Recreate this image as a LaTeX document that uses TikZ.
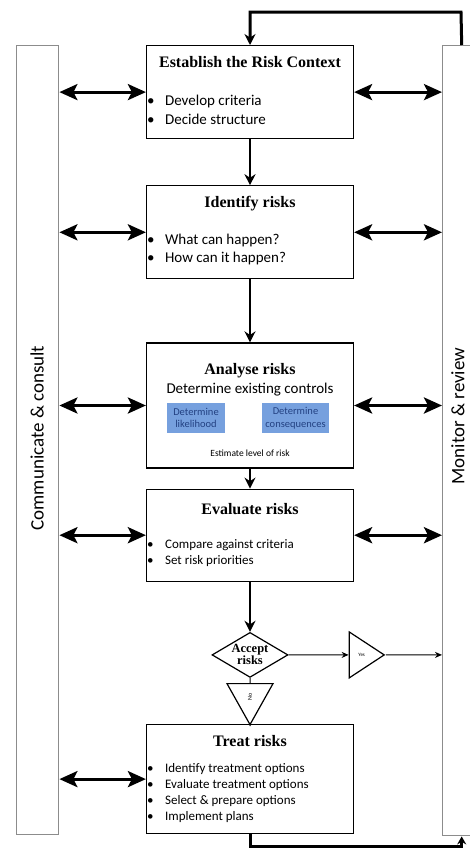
\documentclass[tikz,border=0pt]{standalone}
\usepackage{fontspec}
\setmainfont{Carlito}
\newfontfamily\headfont{Liberation Serif}
\usetikzlibrary{arrows.meta, positioning, shapes.geometric, calc}
\definecolor{panelgray}{RGB}{140,140,140}
\definecolor{subfill}{RGB}{118,160,222}
\definecolor{subtext}{RGB}{35,65,130}
\newcommand{\bitem}{\makebox[18pt][l]{\textbullet}}

\begin{document}
\begin{tikzpicture}[
  x=1pt, y=-1pt,
  >={Stealth[length=11pt, width=11pt]},
  stagebox/.style={draw, line width=1.2pt, minimum width=207pt, inner sep=0pt},
  panel/.style={draw=panelgray, line width=1.4pt, inner sep=0pt, anchor=north west},
  headtext/.style={font=\headfont\bfseries\fontsize{16}{18}\selectfont, inner sep=0pt},
  bigbullets/.style={anchor=west, align=left, inner sep=0pt, font=\fontsize{15}{18.5}\selectfont},
  smallbullets/.style={anchor=west, align=left, inner sep=0pt, font=\fontsize{13}{15.8}\selectfont},
  subbox/.style={fill=subfill, text=subtext, minimum height=30pt, inner sep=0pt, align=center, font=\fontsize{10.5}{12.5}\selectfont},
  sidetext/.style={rotate=90, font=\fontsize{19}{22}\selectfont, inner sep=0pt},
  decision/.style={draw, diamond, line width=1.2pt, minimum width=76pt, minimum height=45pt, inner sep=0pt},
  gate/.style={draw, isosceles triangle, isosceles triangle stretches, line width=1.2pt, inner sep=0pt},
  flow/.style={->, line width=2pt},
  link/.style={{Stealth[length=18pt,width=16pt,inset=4pt]}-{Stealth[length=18pt,width=16pt,inset=4pt]}, line width=3.2pt},
  loopline/.style={->, line width=3pt},
  thinflow/.style={->, line width=1pt, >={Stealth[length=7pt,width=6pt]}}
]
\useasboundingbox (0,0) rectangle (470,849);

% Side panels
\node[panel, minimum width=42pt, minimum height=789pt] (comm) at (16,45) {};
\node[panel, minimum width=38pt, minimum height=790pt] (mon)  at (442,45) {};
\node[sidetext] (commlabel) at (37,438) {Communicate \& consult};
\node[sidetext] (monlabel)  at (458,416) {Monitor \& review};

% Process steps
\node[stagebox, minimum height=93pt, anchor=north] (context) at (250,45) {};
\node[stagebox, minimum height=93pt, below=46pt of context]  (identify) {};
\node[stagebox, minimum height=125pt, below=63pt of identify] (analyse) {};
\node[stagebox, minimum height=92pt, below=20pt of analyse]  (evaluate) {};
\node[decision, below=50pt of evaluate] (accept) {};
\node[stagebox, minimum height=109pt, below=46pt of accept]  (treat) {};

% Decision outcomes
\node[gate, minimum width=46pt, minimum height=35pt, right=60pt of accept] (yes) {\fontsize{5}{6}\selectfont Yes};
\node[gate, shape border rotate=-90, minimum width=46pt, minimum height=41pt, below=5pt of accept] (no) {\fontsize{6}{7}\selectfont\rotatebox{90}{No}};
\node[font=\headfont\bfseries\fontsize{12.5}{12}\selectfont, align=center, inner sep=0pt] (acceptlabel) at (accept) {Accept\\risks};

% Step texts
\node[headtext] (contexttitle) at ($(context.north)+(0,17)$) {Establish the Risk Context};
\node[bigbullets] (contextlist) at ($(context.west)+(1,17.5)$) {\bitem Develop criteria\\\bitem Decide structure};

\node[headtext] (identifytitle) at ($(identify.north)+(0,18)$) {Identify risks};
\node[bigbullets] (identifylist) at ($(identify.west)+(1,17)$) {\bitem What can happen?\\\bitem How can it happen?};

\node[headtext] (analysetitle) at ($(analyse.north)+(0,28)$) {Analyse risks};
\node[font=\fontsize{15}{17}\selectfont, inner sep=0pt] (controls) at ($(analyse.north)+(0,47)$) {Determine existing controls};
\node[subbox, minimum width=58pt] (likelihood)  at (196,418) {Determine\\likelihood};
\node[subbox, minimum width=67pt] (consequence) at (295.5,418) {Determine\\consequences};
\node[font=\fontsize{9.5}{11}\selectfont, inner sep=0pt] (estimate) at ($(analyse.south)+(0,-15)$) {Estimate level of risk};

\node[headtext] (evaluatetitle) at ($(evaluate.north)+(0,20)$) {Evaluate risks};
\node[smallbullets] (evaluatelist) at ($(evaluate.west)+(1,18)$) {\bitem Compare against criteria\\\bitem Set risk priorities};

\node[headtext] (treattitle) at ($(treat.north)+(0,17)$) {Treat risks};
\node[smallbullets] (treatlist) at ($(treat.west)+(1,14)$) {\bitem Identify treatment options\\\bitem Evaluate treatment options\\\bitem Select \& prepare options\\\bitem Implement plans};

% Main flow
\draw[flow] (context) -- (identify);
\draw[flow] (identify) -- (analyse);
\draw[flow] (analyse) -- (evaluate);
\draw[flow] (evaluate) -- (accept);
\draw[thinflow] (accept) -- (yes);
\draw[thinflow] (yes) -- (mon.west |- yes);
\draw[line width=1pt] (accept) -- (no);
\draw[line width=1pt] (no) -- (treat);

% Links to the side panels
\foreach \s in {context, identify, analyse, evaluate, treat}
  \draw[link] (comm.east |- \s) -- (\s.west);
\foreach \s in {context, identify, analyse, evaluate}
  \draw[link] (\s.east) -- (mon.west |- \s);

% Feedback loops
\coordinate (looptop) at (461,12);
\draw[loopline] (mon.north) -- (looptop) -| (context.north);
\coordinate (loopbot) at (250,846);
\draw[loopline, >={Stealth[length=8pt,width=9pt]}] (treat.south) -- (loopbot) -| (mon.south);
\end{tikzpicture}
\end{document}
